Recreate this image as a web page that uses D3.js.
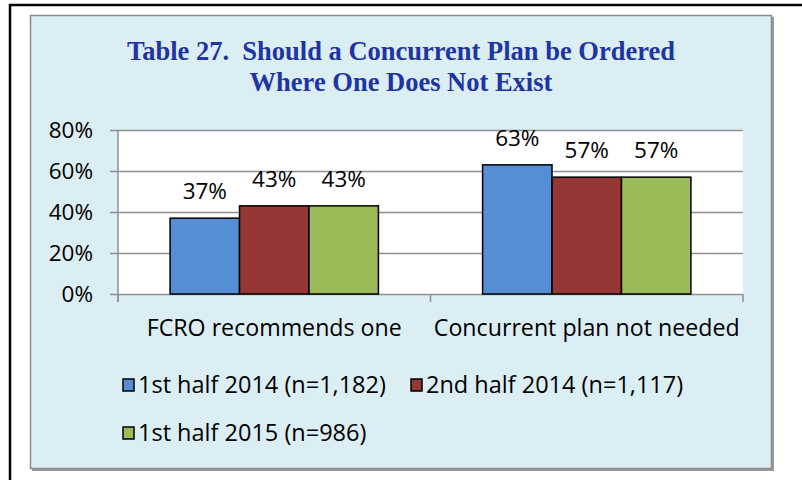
<!DOCTYPE html>
<html>
<head>
<meta charset="utf-8">
<script src="https://cdn.jsdelivr.net/npm/d3@7"></script>
<style>
  html, body { margin: 0; padding: 0; background: #fff; }
  svg { display: block; }
</style>
</head>
<body>
<div id="chart"></div>
<script>
// values
const categories = ['FCRO recommends one', 'Concurrent plan not needed'];
const seriesNames = ['1st half 2014 (n=1,182)', '2nd half 2014 (n=1,117)', '1st half 2015 (n=986)'];
const firstHalf2014 = [37, 63];
const secondHalf2014 = [43, 57];
const firstHalf2015 = [43, 57];
const yTicks = [0, 20, 40, 60, 80];
const titleLines = ['Table 27.\u00a0 Should a Concurrent Plan be Ordered', 'Where One Does Not Exist'];

const colors = ['#558ed5', '#953735', '#9bbb59'];
const seriesValues = [firstHalf2014, secondHalf2014, firstHalf2015];

const width = 802, height = 480;
const plot = { left: 118, right: 743, top: 130, bottom: 294 };
const font = "'Open Sans', sans-serif";

const svg = d3.select('#chart')
  .append('svg')
  .attr('width', width)
  .attr('height', height);

// outer frame (open towards right/bottom like the page crop)
svg.append('rect')
  .attr('x', 10).attr('y', 5)
  .attr('width', 900).attr('height', 600)
  .attr('fill', 'none')
  .attr('stroke', '#000')
  .attr('stroke-width', 2.5);

// chart panel with a little shadow
svg.append('rect')
  .attr('x', 32).attr('y', 17)
  .attr('width', 742).attr('height', 454)
  .attr('fill', '#9a9a9a');
svg.append('rect')
  .attr('x', 30.5).attr('y', 15.5)
  .attr('width', 741).attr('height', 453)
  .attr('fill', '#dbeef4')
  .attr('stroke', '#8a8a8a')
  .attr('stroke-width', 1.5);

// title
svg.append('g')
  .selectAll('text')
  .data(titleLines)
  .join('text')
  .attr('x', 401)
  .attr('y', (d, i) => 60 + i * 31)
  .attr('text-anchor', 'middle')
  .attr('font-family', "'Liberation Serif', 'Times New Roman', serif")
  .attr('font-weight', 'bold')
  .attr('font-size', 26.5)
  .attr('fill', '#2034a6')
  .text(d => d);

// scales
const x0 = d3.scaleBand()
  .domain(categories)
  .range([plot.left, plot.right])
  .paddingInner(0);

const x1 = d3.scaleBand()
  .domain(seriesNames)
  .range([0, x0.bandwidth()])
  .paddingInner(0)
  .paddingOuter(0.75);

const y = d3.scaleLinear()
  .domain([0, 80])
  .range([plot.bottom, plot.top]);

// plot area
svg.append('rect')
  .attr('x', plot.left).attr('y', plot.top)
  .attr('width', plot.right - plot.left)
  .attr('height', plot.bottom - plot.top)
  .attr('fill', '#fff');

// gridlines + y axis
const yAxis = d3.axisLeft(y)
  .tickValues(yTicks)
  .tickSize(8)
  .tickPadding(17)
  .tickFormat(d => d + '%');

const gy = svg.append('g')
  .attr('transform', `translate(${plot.left},0)`)
  .call(yAxis);
gy.select('.domain').remove();
gy.selectAll('.tick line')
  .attr('x2', plot.right - plot.left)
  .attr('x1', -8)
  .attr('stroke', '#8f8f8f')
  .attr('stroke-width', 1.5);
gy.selectAll('.tick text')
  .attr('font-family', font)
  .attr('font-size', 22.5)
  .attr('fill', '#000');

svg.append('line')
  .attr('x1', plot.left).attr('x2', plot.left)
  .attr('y1', plot.top).attr('y2', plot.bottom + 8)
  .attr('stroke', '#8f8f8f')
  .attr('stroke-width', 1.5);

// category boundary ticks on the x axis
const boundaries = categories.map(c => x0(c)).concat([plot.right]);
svg.append('g')
  .selectAll('line')
  .data(boundaries)
  .join('line')
  .attr('x1', d => d).attr('x2', d => d)
  .attr('y1', plot.bottom).attr('y2', plot.bottom + 8)
  .attr('stroke', '#8f8f8f')
  .attr('stroke-width', 1.5);

// bars
const groups = svg.append('g')
  .selectAll('g')
  .data(categories)
  .join('g')
  .attr('transform', d => `translate(${x0(d)},0)`);

const cells = groups.selectAll('g')
  .data((c, ci) => seriesNames.map((s, si) => ({ s, si, v: seriesValues[si][ci] })))
  .join('g');

cells.append('rect')
  .attr('x', d => x1(d.s))
  .attr('y', d => y(d.v))
  .attr('width', x1.bandwidth())
  .attr('height', d => y(0) - y(d.v))
  .attr('fill', d => colors[d.si])
  .attr('stroke', '#000')
  .attr('stroke-width', 1.5);

cells.append('text')
  .attr('x', d => x1(d.s) + x1.bandwidth() / 2)
  .attr('y', d => y(d.v) - 19)
  .attr('text-anchor', 'middle')
  .attr('font-family', font)
  .attr('font-size', 22.5)
  .attr('fill', '#000')
  .text(d => d.v + '%');

// category labels
svg.append('g')
  .selectAll('text')
  .data(categories)
  .join('text')
  .attr('x', d => x0(d) + x0.bandwidth() / 2)
  .attr('y', 336)
  .attr('text-anchor', 'middle')
  .attr('font-family', font)
  .attr('font-size', 23.2)
  .attr('fill', '#000')
  .text(d => d);

// legend
const legendPos = [[123, 385], [411, 385], [123, 433]];
const legend = svg.append('g')
  .selectAll('g')
  .data(seriesNames)
  .join('g')
  .attr('transform', (d, i) => `translate(${legendPos[i][0]},${legendPos[i][1]})`);

legend.append('rect')
  .attr('x', 0).attr('y', -6)
  .attr('width', 11).attr('height', 12)
  .attr('fill', (d, i) => colors[i])
  .attr('stroke', '#000')
  .attr('stroke-width', 1.5);

legend.append('text')
  .attr('x', 15)
  .attr('y', 8)
  .attr('font-family', font)
  .attr('font-size', 23.5)
  .attr('fill', '#000')
  .text(d => d);
</script>
</body>
</html>
